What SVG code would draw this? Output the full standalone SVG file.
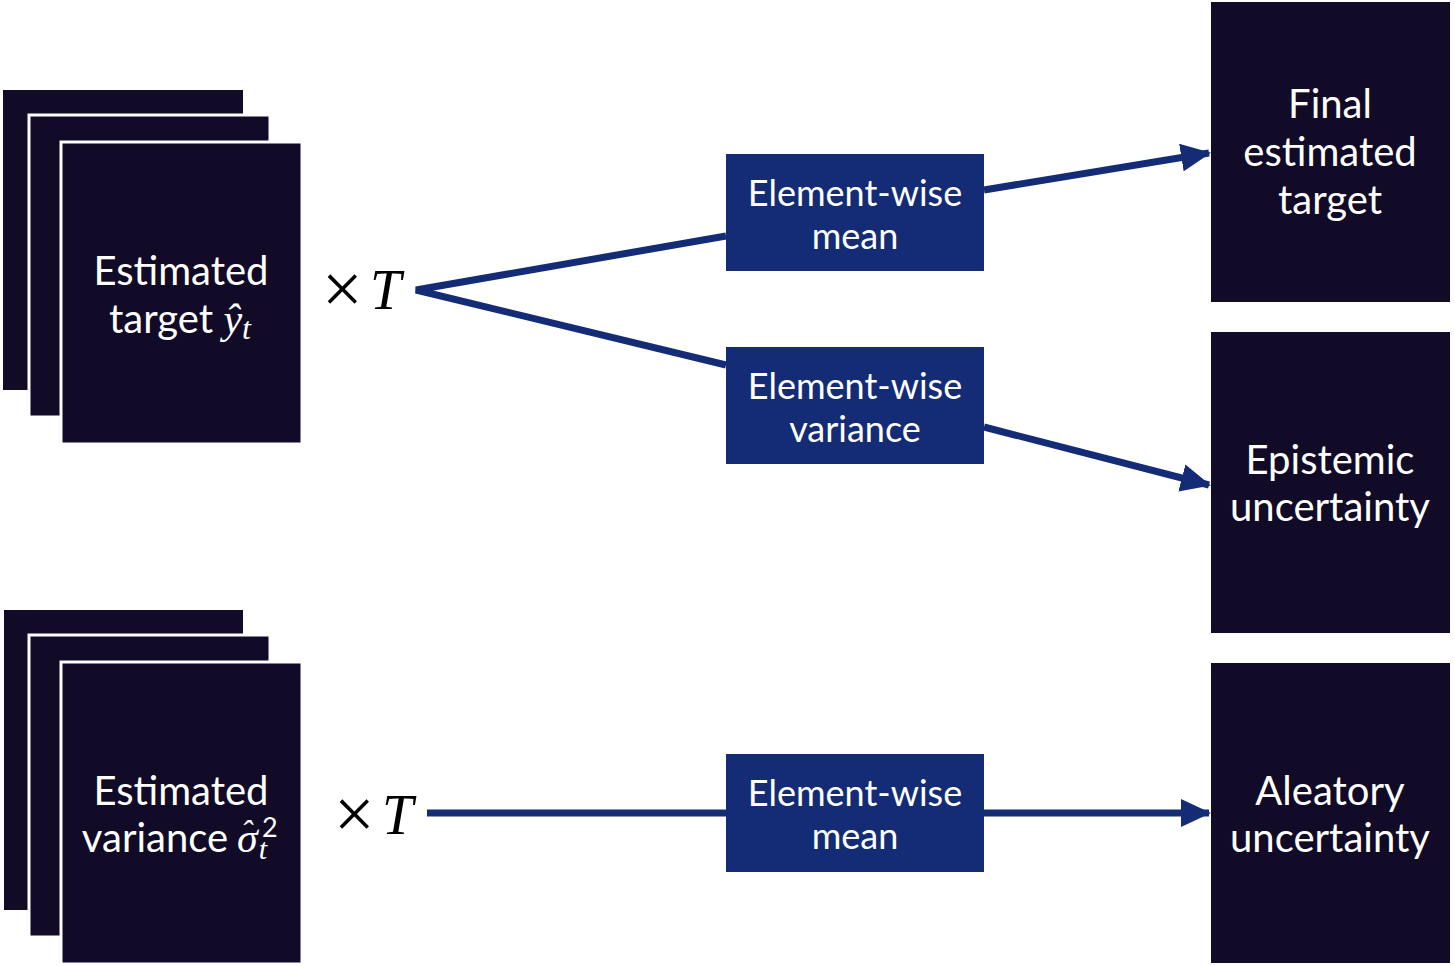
<svg xmlns="http://www.w3.org/2000/svg" width="1454" height="966" viewBox="0 0 1454 966">
<style>
.dark{fill:#110b27;}
.stk{fill:#110b27;stroke:#ffffff;stroke-width:3;}
.blue{fill:#142b76;}
.lbl{font-family:Lato,"Open Sans",sans-serif;fill:#ffffff;text-anchor:middle;}
.big{font-size:40px;}
.mid{font-size:36px;}
.math{font-family:"Liberation Serif","DejaVu Serif",serif;font-style:italic;}
.op{font-family:"Liberation Serif","DejaVu Serif",serif;fill:#000000;}
.con{stroke:#142b76;stroke-width:7;fill:none;}
</style>
<defs>
<marker id="ah" markerUnits="userSpaceOnUse" markerWidth="30" markerHeight="28" refX="28" refY="14" orient="auto">
<path d="M0,0 L30,14 L0,28 Z" fill="#142b76"/>
</marker>
</defs>
<rect width="1454" height="966" fill="#ffffff"/>

<g id="stack-target">
<rect class="dark" x="3" y="90" width="240" height="300"/>
<rect class="stk" x="29" y="115" width="241" height="302"/>
<rect class="stk" x="61" y="142" width="241" height="302"/>
<text class="lbl big" x="181" y="285">Estimated</text>
<text class="lbl big" x="180" y="333">target <tspan class="math" font-size="42">ŷ</tspan><tspan class="math" font-size="32" dy="6">t</tspan></text>
</g>

<g id="stack-variance">
<rect class="dark" x="4" y="610" width="239" height="300"/>
<rect class="stk" x="29" y="635" width="241" height="302"/>
<rect class="stk" x="61" y="662" width="241" height="302"/>
<text class="lbl big" x="181" y="805">Estimated</text>
<text class="lbl big" x="155" y="852">variance</text>
<text class="math" font-size="42" fill="#ffffff" x="237" y="852">σ<tspan font-size="34" dx="-17" dy="-8">ˆ</tspan><tspan font-family="Lato,sans-serif" font-style="normal" font-size="27" dx="10" dy="-7">2</tspan><tspan font-size="30" dx="-19" dy="22">t</tspan></text>
</g>

<g id="times-top">
<text class="op" font-size="72" x="322" y="313">×</text>
<text class="op math" font-size="56" x="370" y="309">T</text>
</g>
<g id="times-bottom">
<text class="op" font-size="72" x="334" y="838">×</text>
<text class="op math" font-size="56" x="382" y="834">T</text>
</g>

<g id="mean-top">
<rect class="blue" x="726" y="154" width="258" height="117"/>
<text class="lbl mid" x="855" y="206">Element-wise</text>
<text class="lbl mid" x="855" y="249">mean</text>
</g>
<g id="variance-mid">
<rect class="blue" x="726" y="347" width="258" height="117"/>
<text class="lbl mid" x="855" y="399">Element-wise</text>
<text class="lbl mid" x="855" y="442">variance</text>
</g>
<g id="mean-bottom">
<rect class="blue" x="726" y="754" width="258" height="118"/>
<text class="lbl mid" x="855" y="806">Element-wise</text>
<text class="lbl mid" x="855" y="849">mean</text>
</g>

<g id="final-target">
<rect class="dark" x="1211" y="2" width="239" height="300"/>
<text class="lbl big" x="1330" y="118">Final</text>
<text class="lbl big" x="1330" y="166">estimated</text>
<text class="lbl big" x="1330" y="214">target</text>
</g>
<g id="epistemic">
<rect class="dark" x="1211" y="332" width="239" height="301"/>
<text class="lbl big" x="1330" y="474">Epistemic</text>
<text class="lbl big" x="1330" y="521">uncertainty</text>
</g>
<g id="aleatory">
<rect class="dark" x="1211" y="663" width="239" height="300"/>
<text class="lbl big" x="1330" y="805">Aleatory</text>
<text class="lbl big" x="1330" y="852">uncertainty</text>
</g>

<g id="connectors">
<path class="con" d="M726,236 L416,290 L726,365"/>
<line class="con" x1="984" y1="190" x2="1209" y2="153" marker-end="url(#ah)"/>
<line class="con" x1="984" y1="427" x2="1209" y2="485" marker-end="url(#ah)"/>
<line class="con" x1="427" y1="813" x2="726" y2="813"/>
<line class="con" x1="984" y1="813" x2="1209" y2="813" marker-end="url(#ah)"/>
</g>
</svg>
